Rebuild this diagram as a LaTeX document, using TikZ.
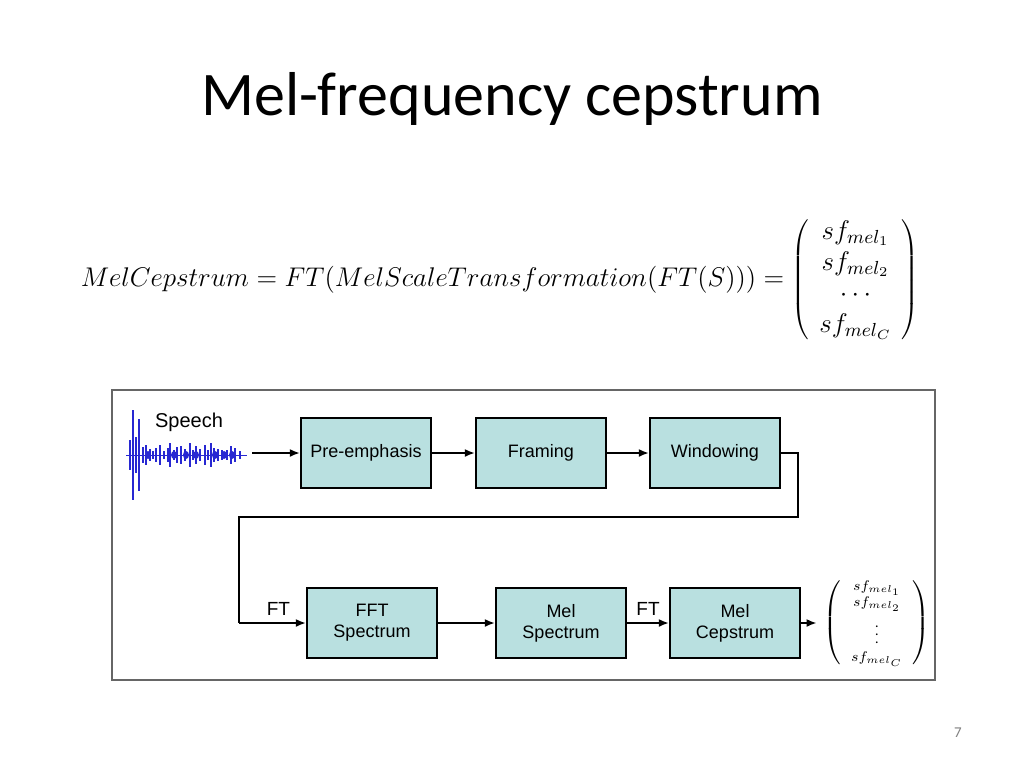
\RequirePackage{fix-cm}
\documentclass[tikz,border=0pt]{standalone}
\usepackage{fontspec}
\setmainfont{Carlito}
\newfontfamily\arialfont{Liberation Sans}
\usetikzlibrary{positioning}
\usetikzlibrary{arrows.meta}
\definecolor{boxfill}{RGB}{185,224,224}
\definecolor{wavecol}{RGB}{40,40,210}
\tikzstyle{stage}=[draw, very thick, fill=boxfill, minimum width=65pt, minimum height=35pt, align=center, font=\arialfont\fontsize{9}{10.5}\selectfont]
\tikzstyle{flow}=[thick, -{Latex[length=5pt,width=4pt]}]
\tikzstyle{link}=[thick]
\tikzstyle{flow label}=[font=\arialfont\fontsize{9.5}{11}\selectfont]

\begin{document}
\begin{tikzpicture}[x=0.5pt, y=-0.5pt]
      \useasboundingbox[fill=white] (0,0) rectangle (1024,768);
      \node (title) at (512,99) {\fontsize{31}{36}\selectfont Mel-frequency cepstrum};
      \node (formula) at (500,280) {\fontsize{13.5}{15.5}\selectfont
        $MelCepstrum = FT(MelScaleTransformation(FT(S))) =
        \left(\begin{array}{c} sf_{mel_1}\\ sf_{mel_2}\\ \cdots\\ sf_{mel_C}\end{array}\right)$};
      % diagram frame
      \draw[gray!80!black, thick] (112,390) rectangle (935,680);
      % speech signal
      \draw[wavecol, thin] (126,455) -- (247,455);
      \foreach \x/\h in {130/15, 133/45, 136/18, 139/36, 143/8, 146/10, 150/6, 153/4,
                         156/7, 160/10, 164/4, 168/7, 170/12, 174/5, 177/8,
                         181/9, 185/6, 190/12, 193/5, 196/9,
                         200/6, 205/10, 208/5, 211/12, 214/7, 218/6, 222/5,
                         227/5, 231/9, 235/7, 240/4}
        \draw[wavecol, semithick] (\x,455-\h) -- (\x,455+\h);
      \foreach \x in {148, 174, 186, 196, 215, 224, 232}
        \fill[wavecol] (\x,455) ellipse (3 and 4);
      \node[font=\arialfont\fontsize{10}{12}\selectfont] (speech) at (189,422) {Speech};
      \coordinate (wave end) at (252,453);
      % stages
      \node[stage] (preemph) at (366,453) {Pre-emphasis};
      \node[stage] (framing) at (541,453) {Framing};
      \node[stage] (window) at (715,453) {Windowing};
      \node[stage] (fftspec) at (372,623) {FFT\\Spectrum};
      \node[stage] (melspec) at (561,623) {Mel\\Spectrum};
      \node[stage] (melcep) at (735,623) {Mel\\Cepstrum};
      \node (vector) at (877,623) {\fontsize{7}{8}\selectfont
        $\left(\begin{array}{c} sf_{mel_1}\\ sf_{mel_2}\\[1pt] \vdots\\[1pt] sf_{mel_C}\end{array}\right)$};
      \coordinate (turn a) at (798,453);
      \coordinate (turn b) at (798,517);
      \coordinate (turn c) at (239,517);
      \coordinate (turn d) at (239,623);
      % connectors
      \draw[flow] (wave end) -- (preemph);
      \draw[flow] (preemph) -- (framing);
      \draw[flow] (framing) -- (window);
      \draw[link] (window.east) -- (turn a) -- (turn b) -- (turn c) -- (turn d);
      \draw[flow] (turn d) -- node[flow label, above, xshift=3pt] {FT} (fftspec);
      \draw[flow] (fftspec) -- (melspec);
      \draw[flow] (melspec) -- node[flow label, above] {FT} (melcep);
      \draw[flow] (melcep) -- (vector);
      \node[gray, font=\fontsize{7.5}{9}\selectfont] (pageno) at (958,733) {7};
    \end{tikzpicture}
\end{document}
